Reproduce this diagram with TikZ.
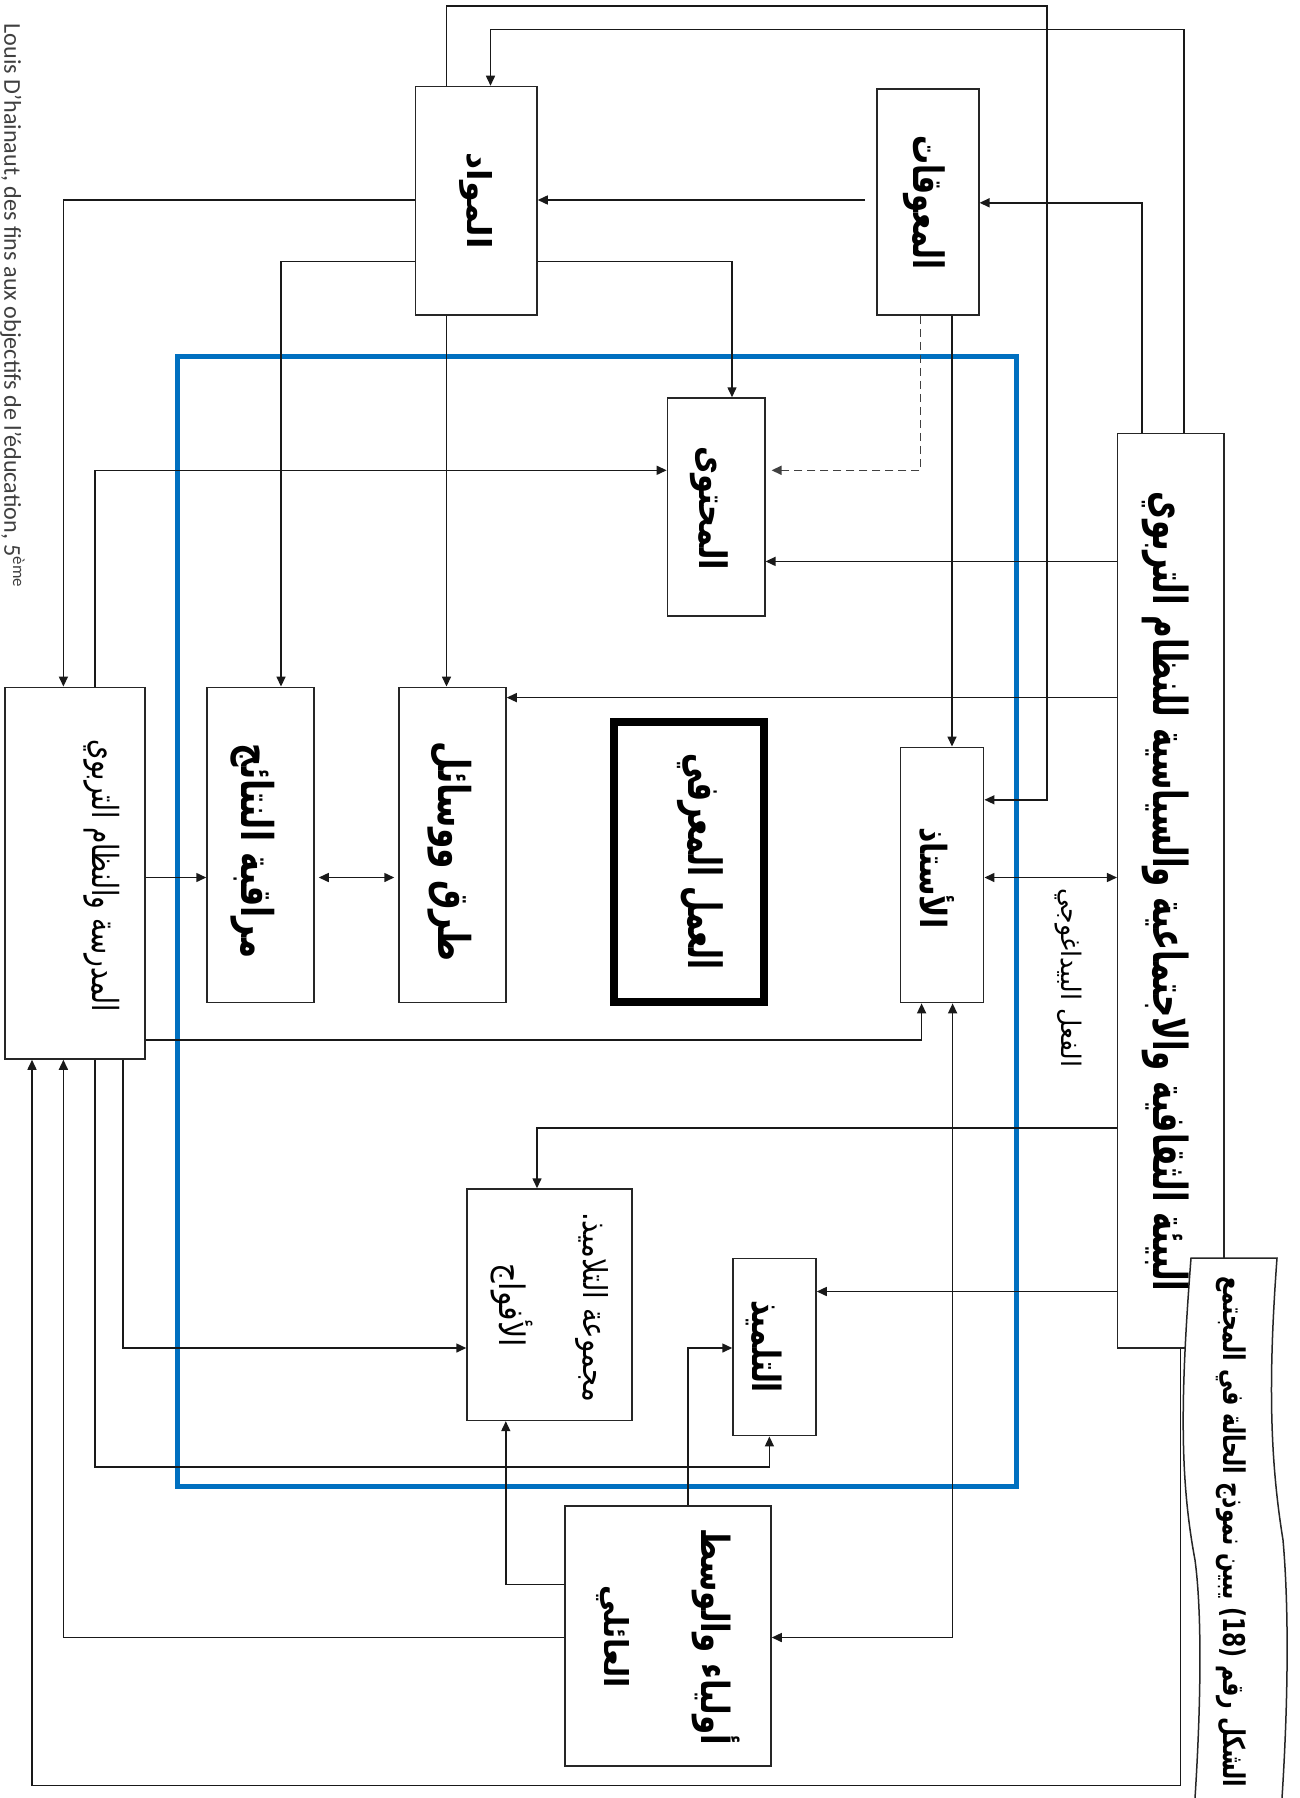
\documentclass[tikz,border=0pt]{standalone}
\usepackage{fontspec}
\usetikzlibrary{arrows.meta}
\TeXXeTstate=1
\newfontfamily\arabicfont[Script=Arabic]{DejaVu Sans}
\newfontfamily\latinfont{Carlito}
\newlength\px \setlength\px{0.5pt}
\newcommand\ARB[3]{\resizebox*{#1\px}{#2\px}{\arabicfont\bfseries #3}}
\newcommand\ARN[3]{\resizebox*{#1\px}{#2\px}{\arabicfont #3}}
\definecolor{frameblue}{RGB}{0,112,192}
\begin{document}
\begin{tikzpicture}[x=0.5pt,y=-0.5pt,
  box/.style={draw=black!85, line width=0.75pt, fill=white, inner sep=0pt},
  lbl/.style={rotate=-90, inner sep=0pt},
  conn/.style={draw=black!90, line width=0.75pt},
  arr/.style={conn, -{Triangle[length=5pt,width=4.5pt]}},
  darr/.style={conn, {Triangle[length=5pt,width=4.5pt]}-{Triangle[length=5pt,width=4.5pt]}},
  dashline/.style={draw=black!75, line width=0.75pt, dash pattern=on 4pt off 2.5pt}]
\useasboundingbox[fill=white] (0,0) rectangle (1300,1798);

% blue frame
\draw[frameblue, line width=2.5pt] (177.5,356.7) rectangle (1016.5,1486.8);

% boxes
\node[box, minimum width=121.6\px, minimum height=228.5\px] (mawad) at (476.2,200.75) {};
\node[box, minimum width=102\px, minimum height=226.2\px] (moaw) at (927.8,201.9) {};
\node[box, minimum width=97.4\px, minimum height=218\px] (muhtawa) at (716.1,507) {};
\node[box, minimum width=83.3\px, minimum height=255.3\px] (ustadh) at (942.05,874.95) {};
\node[draw=black, line width=4pt, fill=white, inner sep=0pt, minimum width=150.5\px, minimum height=280\px] (amal) at (688.75,862) {};
\node[box, minimum width=107\px, minimum height=315.3\px] (turuq) at (452.5,844.95) {};
\node[box, minimum width=107\px, minimum height=315.3\px] (muraqaba) at (260.5,844.95) {};
\node[box, minimum width=140\px, minimum height=371.7\px] (madrasa) at (75,873.15) {};
\node[box, minimum width=165\px, minimum height=231.4\px] (majmua) at (549.5,1304.7) {};
\node[box, minimum width=83\px, minimum height=177.3\px] (tilmidh) at (774.5,1347.05) {};
\node[box, minimum width=206\px, minimum height=260\px] (awliya) at (668,1636) {};
\node[box, minimum width=106.3\px, minimum height=914.4\px] (bia) at (1170.85,890.8) {};

% connectors
\draw[arr] (bia.north -| 1184,0) |- (490.5,29.5) -- (mawad.north -| 490.5,0);
\draw[arr] (mawad.north -| 446.5,0) |- (1047,6.1) |- (ustadh.east |- 0,799.8);
\draw[arr, shorten <=11\px] (moaw.west |- 0,200) -- (mawad.east |- 0,200);
\draw[arr] (bia.north -| 1142,0) |- (moaw.east |- 0,202.8);
\draw[arr] (mawad.west |- 0,199.8) -| (madrasa.north -| 63.4,0);
\draw[arr] (mawad.west |- 0,261.4) -| (muraqaba.north -| 281,0);
\draw[arr] (mawad.east |- 0,261.4) -| (muhtawa.north -| 732,0);
\draw[arr] (mawad.south -| 446.5,0) -- (turuq.north -| 446.5,0);
\draw[dashline, -{Triangle[length=5pt,width=4.5pt]}, shorten >=6\px] (moaw.south -| 920.7,0) |- (muhtawa.east |- 0,470.3);
\draw[arr] (moaw.south -| 952,0) -- (ustadh.north -| 952,0);
\draw[arr] (bia.west |- 0,561.4) -- (muhtawa.east |- 0,561.4);
\draw[arr] (bia.west |- 0,697.6) -- (turuq.east |- 0,697.6);
\draw[arr] (madrasa.north -| 95,0) |- (muhtawa.west |- 0,470.3);
\draw[darr] (ustadh.east |- 0,877.5) -- (bia.west |- 0,877.5);
\draw[arr] (madrasa.east |- 0,877.5) -- (muraqaba.west |- 0,877.5);
\draw[darr, shorten <=4\px, shorten >=4\px] (muraqaba.east |- 0,877.5) -- (turuq.west |- 0,877.5);
\draw[arr] (madrasa.east |- 0,1040) -| (ustadh.south -| 921.6,0);
\draw[arr] (bia.west |- 0,1128) -| (majmua.north -| 537,0);
\draw[arr] (bia.west |- 0,1291.5) -- (tilmidh.east |- 0,1291.5);
\draw[arr] (madrasa.south -| 123,0) |- (majmua.west |- 0,1348);
\draw[arr] (madrasa.south -| 95,0) |- (769.4,1467) -- (tilmidh.south -| 769.4,0);
\draw[arr] (awliya.north -| 688,0) |- (tilmidh.west |- 0,1348);
\draw[arr] (awliya.west |- 0,1584.4) -| (majmua.south -| 505.8,0);
\draw[arr] (awliya.west |- 0,1637.5) -| (madrasa.south -| 63.4,0);
\draw[arr] (bia.south -| 1180.7,0) |- (32,1785.4) -- (madrasa.south -| 32,0);
\draw[darr] (ustadh.south -| 952.6,0) |- (awliya.east |- 0,1637.5);

% caption banner
\draw[fill=white, draw=black!85, line width=0.75pt] (1195,1798) .. controls (1200,1720) and (1203,1620) .. (1195,1560) .. controls (1180,1480) and (1180,1400) .. (1191,1258) -- (1277,1258) .. controls (1268,1380) and (1270,1460) .. (1283,1540) .. controls (1290,1620) and (1287,1720) .. (1282,1798);

% labels
\node[lbl] (tmawad) at (476.2,200.8) {\ARB{96}{33}{\beginR المواد\endR}};
\node[lbl] (tmoaw) at (924.7,202.8) {\ARB{134}{42}{\beginR المعوقات\endR}};
\node[lbl] (tmuhtawa) at (709,508) {\ARB{124}{38}{\beginR المحتوى\endR}};
\node[lbl] (tustadh) at (937,878) {\ARB{101}{35}{\beginR الأستاذ\endR}};
\node[lbl] (tamal) at (700,861) {\ARB{216}{46}{\beginR العمل المعرفي\endR}};
\node[lbl] (tturuq) at (450,851.6) {\ARB{220}{44}{\beginR طرق ووسائل\endR}};
\node[lbl] (tmuraqaba) at (253,851) {\ARB{214.5}{44}{\beginR مراقبة النتائج\endR}};
\node[lbl] (tmadrasa) at (101.6,875.6) {\ARN{272}{36}{\beginR المدرسة والنظام التربوي\endR}};
\node[lbl] (tmajmua) at (592,1307) {\ARN{190}{33}{\beginR مجموعة التلاميذ.\endR}};
\node[lbl] (tafwaj) at (512,1305) {\ARN{84}{42}{\beginR الأفواج\endR}};
\node[lbl] (ttilmidh) at (764,1346.5) {\ARB{93}{36}{\beginR التلميذ\endR}};
\node[lbl] (tawliya) at (716,1636.5) {\ARB{217}{48}{\beginR أولياء والوسط\endR}};
\node[lbl] (taili) at (612.5,1636.5) {\ARB{103}{33}{\beginR العائلي\endR}};
\node[lbl] (tbia) at (1166,891.7) {\ARB{800}{47}{\beginR البيئة الثقافية والاجتماعية والسياسية للنظام التربوي\endR}};
\node[lbl] (tfil) at (1068,977.5) {\ARN{179}{27}{\beginR الفعل البيداغوجي\endR}};
\node[lbl] (tcaption) at (1231,1532) {\ARB{511}{30}{\beginR الشكل رقم \beginL(18)\endL{} يبين نموذج الحالة في المجتمع\endR}};
\node[lbl, text=black!75] (tsource) at (12.5,306) {\resizebox{565\px}{!}{\latinfont Louis D’hainaut, des fins aux objectifs de l’éducation, 5\textsuperscript{ème}}};
\end{tikzpicture}
\end{document}
